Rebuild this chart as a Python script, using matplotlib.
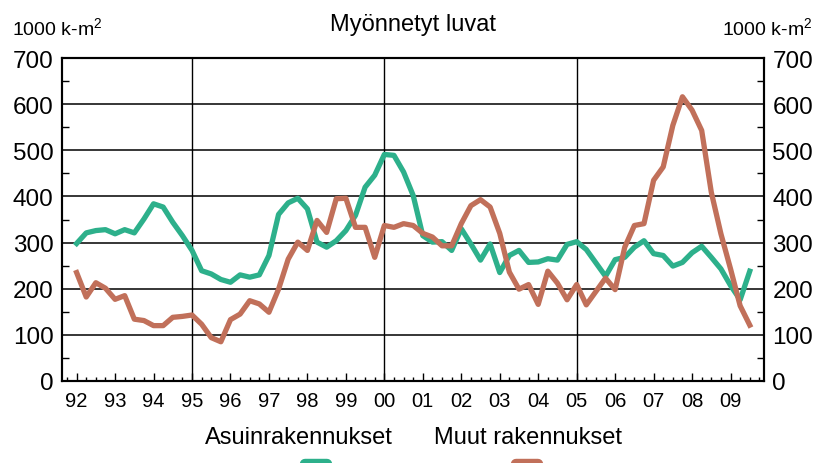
import numpy as np
import pandas as pd
import matplotlib
matplotlib.use('Agg')
import matplotlib.pyplot as plt
import matplotlib.ticker as ticker
from matplotlib.lines import Line2D

# quarterly data, 1992Q1 - 2009Q3, 1000 k-m2
quarters = pd.period_range('1992Q1', '2009Q3', freq='Q')

asuin = [298, 321, 326, 328, 319, 328, 321, 351,
         384, 377, 344, 315, 283, 239, 232, 220,
         214, 230, 225, 230, 272, 361, 386, 396,
         373, 301, 290, 304, 326, 359, 420, 446,
         491, 489, 453, 402, 315, 301, 302, 283,
         330, 297, 262, 297, 235, 272, 283, 257,
         258, 265, 262, 296, 302, 285, 256, 227,
         263, 268, 290, 304, 276, 272, 249, 257,
         278, 292, 268, 243, 207, 176, 238]

muut = [235, 182, 213, 201, 177, 185, 134, 131,
        120, 120, 138, 140, 143, 123, 94, 85,
        133, 145, 174, 167, 149, 199, 264, 301,
        283, 348, 322, 395, 396, 333, 333, 268,
        337, 333, 341, 337, 320, 312, 293, 293,
        341, 380, 393, 377, 320, 236, 199, 209,
        166, 238, 212, 176, 209, 165, 194, 223,
        198, 290, 337, 341, 435, 464, 554, 616,
        587, 543, 409, 319, 243, 163, 121]

years = list(range(1992, 2010))
year_labels = ['%02d' % (y % 100) for y in years]
series_names = ['Asuinrakennukset', 'Muut rakennukset']
colors = ['#2DB08B', '#C1705A']

plt.rcParams['font.family'] = ['Liberation Sans', 'DejaVu Sans']
plt.rcParams['mathtext.default'] = 'regular'

W, H = 816, 464
fig = plt.figure(figsize=(W / 100, H / 100), dpi=100)
ax = fig.add_axes([62 / W, 1 - 382 / H, (764 - 62) / W, (382 - 59) / H])

x = quarters.year + (quarters.quarter - 1) / 4
for vals, c in zip([asuin, muut], colors):
    ax.plot(x, vals, color=c, lw=3.8, zorder=3)

ax.set_xlim(1991.62, 2009.87)
ax.set_ylim(0, 700)

# grid
ax.set_yticks(range(0, 701, 100))
ax.yaxis.grid(True, color='black', lw=1.1)
for yr in [1995, 2000, 2005]:
    ax.axvline(yr, color='black', lw=1.0, zorder=1)

ax.set_xticks(years)
ax.set_xticklabels(year_labels)
ax.xaxis.set_minor_locator(ticker.MultipleLocator(0.25))
ax.yaxis.set_minor_locator(ticker.MultipleLocator(50))
ax.tick_params(axis='x', which='major', direction='in', length=6, width=1,
               labelsize=14.5, pad=7)
ax.tick_params(axis='x', which='minor', direction='in', length=3, width=1)
ax.tick_params(axis='y', which='major', direction='in', length=0,
               labelsize=17.5, pad=6)
ax.tick_params(axis='y', which='minor', direction='in', length=5, width=1)
for s in ax.spines.values():
    s.set_linewidth(1.5)

ax2 = ax.twinx()
ax2.set_ylim(0, 700)
ax2.set_yticks(range(0, 701, 100))
ax2.yaxis.set_minor_locator(ticker.MultipleLocator(50))
ax2.tick_params(axis='y', which='major', direction='in', length=0,
                labelsize=17.5, pad=6)
ax2.tick_params(axis='y', which='minor', direction='in', length=5, width=1)
for s in ax2.spines.values():
    s.set_linewidth(1.5)

fig.text(413 / W, 1 - 25 / H, 'Myönnetyt luvat', ha='center', va='center', fontsize=17)
fig.text(12 / W, 1 - 28 / H, '1000 k-m$^2$', ha='left', va='center', fontsize=14)
fig.text(812 / W, 1 - 28 / H, '1000 k-m$^2$', ha='right', va='center', fontsize=14)

# legend: labels with line swatches underneath
for name, c, cx, sx in zip(series_names, colors, [299, 528], [316, 527]):
    fig.text(cx / W, 1 - 438 / H, name, ha='center', va='center', fontsize=17)
    fig.add_artist(Line2D([(sx - 11) / W, (sx + 11) / W], [1 - 465 / H, 1 - 465 / H],
                          transform=fig.transFigure, color=c, lw=7.5,
                          solid_capstyle='round'))

fig.savefig('out.png', dpi=100)
